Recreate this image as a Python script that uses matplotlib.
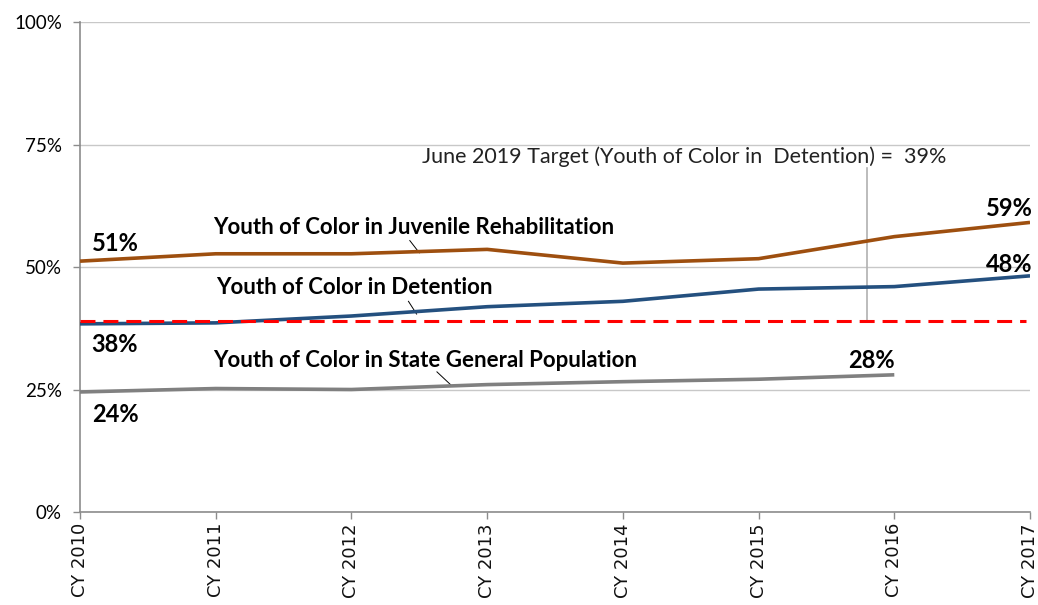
"""Youth of color share chart."""
import matplotlib
matplotlib.use("Agg")
import matplotlib.pyplot as plt
from matplotlib.ticker import PercentFormatter

years = ["CY 2010", "CY 2011", "CY 2012", "CY 2013", "CY 2014", "CY 2015", "CY 2016", "CY 2017"]
rehab = [51.2, 52.7, 52.7, 53.6, 50.8, 51.7, 56.2, 59.1]
detention = [38.4, 38.6, 40.0, 41.9, 43.0, 45.5, 46.0, 48.2]
general_pop = [24.5, 25.2, 25.0, 26.0, 26.6, 27.1, 28.0]
target = 39

ORANGE = "#9E4F0F"
BLUE = "#24507F"
GRAY = "#808080"
RED = "#FF0000"
LABEL_FONT = "Lato"

fig = plt.figure(figsize=(10.38, 6.05), dpi=100)
ax = fig.add_axes([0.0771, 0.1537, 0.9152, 0.8099])

x = list(range(len(years)))
ax.plot(x, rehab, color=ORANGE, lw=2.6, solid_capstyle="butt", zorder=3)
ax.plot(x, detention, color=BLUE, lw=2.6, solid_capstyle="butt", zorder=3)
ax.plot(x[:len(general_pop)], general_pop, color=GRAY, lw=2.6, solid_capstyle="butt", zorder=3)
ax.plot([x[0], x[-1] - 0.03], [target, target], color=RED, lw=2.2, dashes=(4.9, 2.6), zorder=4)

# target marker
ax.plot([5.8, 5.8], [target, 70.3], color="#b0b0b0", lw=1.2, zorder=2)
ax.text(4.45, 72.5, "June 2019 Target (Youth of Color in  Detention) =  39%",
        ha="center", va="center", fontsize=15.5, family=LABEL_FONT, color="#222")

# series labels with leader lines
lfont = dict(ha="left", va="center", fontsize=16, fontweight="bold", family=LABEL_FONT)
ax.text(0.98, 58.0, "Youth of Color in Juvenile Rehabilitation", **lfont)
ax.plot([2.43, 2.50], [55.4, 52.9], color="black", lw=0.7)
ax.text(1.0, 45.9, "Youth of Color in Detention", **lfont)
ax.plot([2.42, 2.48], [43.0, 40.4], color="black", lw=0.7)
ax.text(0.98, 31.0, "Youth of Color in State General Population", **lfont)
ax.plot([2.63, 2.73], [28.6, 26.0], color="black", lw=0.7)

# value labels
vfont = dict(fontsize=17, fontweight="bold", family=LABEL_FONT, va="center")
ax.text(0.09, 54.9, f"{round(rehab[0])}%", ha="left", **vfont)
ax.text(0.08, 34.1, f"{round(detention[0])}%", ha="left", **vfont)
ax.text(0.09, 19.8, f"{round(general_pop[0])}%", ha="left", **vfont)
ax.text(6.0, 31.0, f"{round(general_pop[-1])}%", ha="right", **vfont)
ax.text(7.02, 62.0, f"{round(rehab[-1])}%", ha="right", **vfont)
ax.text(7.02, 50.5, f"{round(detention[-1])}%", ha="right", **vfont)

ax.set_xlim(0, 7)
ax.set_ylim(0, 100)
ax.set_xticks(x)
ax.set_xticklabels(years, rotation=90)
for lbl in ax.get_xticklabels():
    lbl.set_fontfamily("DejaVu Sans")
    lbl.set_fontsize(13)
    lbl.set_color("#111")
ax.set_yticks([0, 25, 50, 75, 100])
ax.yaxis.set_major_formatter(PercentFormatter(decimals=0))
for lbl in ax.get_yticklabels():
    lbl.set_fontfamily(LABEL_FONT)
    lbl.set_fontsize(13.5)
ax.grid(axis="y", color="#c8c8c8", lw=1.0)
ax.set_axisbelow(True)
for side in ("top", "right"):
    ax.spines[side].set_visible(False)
for side in ("left", "bottom"):
    ax.spines[side].set_color("#8c8c8c")
    ax.spines[side].set_linewidth(1.2)
ax.tick_params(axis="both", color="#8c8c8c", length=5, width=1.0)
ax.tick_params(axis="y", pad=8)
ax.tick_params(axis="x", pad=3)

fig.savefig("out.png", dpi=100)
plt.close(fig)
